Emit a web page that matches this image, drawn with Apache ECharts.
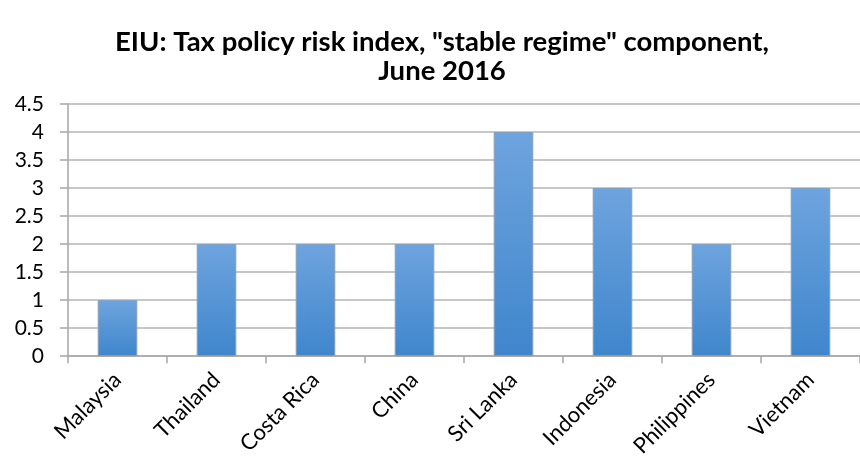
<!DOCTYPE html>
<html>
<head>
<meta charset="utf-8">
<script src="https://cdn.jsdelivr.net/npm/echarts@6/dist/echarts.min.js"></script>
<style>html,body{margin:0;padding:0;background:#fff;}#c{width:860px;height:460px;}</style>
</head>
<body>
<div id="c"></div>
<script>
const categories = ["Malaysia", "Thailand", "Costa Rica", "China", "Sri Lanka", "Indonesia", "Philippines", "Vietnam"];
const values = [1, 2, 2, 2, 4, 3, 2, 3];
const titleText = "EIU: Tax policy risk index, \"stable regime\" component,\nJune 2016";

const chart = echarts.init(document.getElementById('c'), null, {renderer: 'canvas'});
chart.setOption({
  animation: false,
  backgroundColor: '#ffffff',
  title: {
    text: titleText,
    left: 437,
    top: 23,
    textAlign: 'center',
    textStyle: {fontFamily: 'Lato', fontWeight: 'bold', fontSize: 27.5, color: '#000', lineHeight: 29}
  },
  grid: {left: 68, top: 104, width: 796, height: 254, containLabel: false},
  xAxis: {
    type: 'category',
    data: categories,
    boundaryGap: true,
    axisLine: {lineStyle: {color: '#a6a6a6', width: 1.5}},
    axisTick: {show: true, length: 7, lineStyle: {color: '#a6a6a6', width: 1.5}},
    axisLabel: {rotate: 45, interval: 0, fontFamily: 'Lato', fontSize: 22, color: '#000', margin: 20}
  },
  yAxis: {
    type: 'value',
    min: 0, max: 4.5, interval: 0.5,
    axisLine: {show: true, lineStyle: {color: '#a6a6a6', width: 1.5}},
    axisTick: {show: true, length: 8, lineStyle: {color: '#a6a6a6', width: 1.5}},
    splitLine: {lineStyle: {color: '#b4b4b4', width: 1.5}},
    axisLabel: {fontFamily: 'Lato', fontSize: 21, color: '#000', margin: 24}
  },
  series: [{
    type: 'bar',
    data: values,
    barWidth: '40%',
    itemStyle: {
      color: new echarts.graphic.LinearGradient(0, 0, 0, 1, [
        {offset: 0, color: '#6ea4de'},
        {offset: 1, color: '#3f86cc'}
      ]),
      borderColor: '#8a9fb8',
      borderWidth: 1
    }
  }]
});
</script>
</body>
</html>
